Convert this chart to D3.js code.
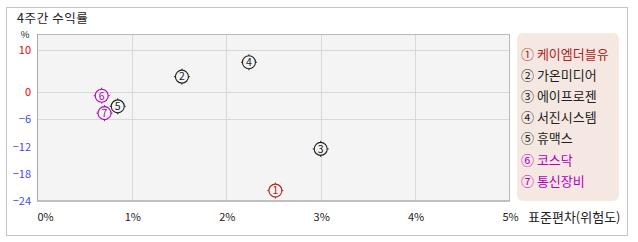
<!DOCTYPE html>
<html><head><meta charset="utf-8">
<script src="https://cdn.jsdelivr.net/npm/d3@7"></script>
<style>
body{margin:0;background:#fff;}
text{font-family:"Noto Sans CJK KR","Noto Sans",sans-serif;}
</style></head>
<body><svg id="c" width="638" height="242"></svg>
<script>
const names = ["케이엠더블유","가온미디어","에이프로젠","서진시스템","휴맥스","코스닥","통신장비"];
const marks = ["①","②","③","④","⑤","⑥","⑦"];
const stdev = [2.52, 1.53, 3.0, 2.24, 0.85, 0.68, 0.71];
const ret4w = [-21.7, 3.7, -12.5, 7.1, -3.1, -0.75, -4.6];
const colors = ["#b0201c","#222","#222","#222","#222","#b000c0","#b000c0"];
const yTicks = [10, 0, -6, -12, -18, -24];
const yGrid = [10, 0, -6];
const xTicks = [0,1,2,3,4,5];

const svg = d3.select("#c");
svg.append("rect").attr("x",6.5).attr("y",7.5).attr("width",621).attr("height",228)
  .attr("fill","#fff").attr("stroke","#c4c4c4");
svg.append("text").attr("x",17).attr("y",23).attr("font-size",12.5).attr("letter-spacing",0.6).attr("fill","#222").text("4주간 수익률");

const L=37.5, R=509.5, T=34.5, B=201;
const x = d3.scaleLinear().domain([0,5]).range([L,R]);
const y = d3.scaleLinear().domain([-24,0,10]).range([B,92.3,50]);

svg.append("rect").attr("x",L).attr("y",T).attr("width",R-L).attr("height",B-T).attr("fill","#f4f4f4");
// grid
svg.append("g").selectAll("line").data(xTicks.slice(1,5)).join("line")
  .attr("x1",d=>Math.round(x(d))+0.5).attr("x2",d=>Math.round(x(d))+0.5).attr("y1",T).attr("y2",B)
  .attr("stroke","#d8d8d8");
svg.append("g").selectAll("line").data(yGrid).join("line")
  .attr("x1",L).attr("x2",R).attr("y1",d=>Math.round(y(d))+0.5).attr("y2",d=>Math.round(y(d))+0.5)
  .attr("stroke","#d8d8d8");
// frame
svg.append("rect").attr("x",L).attr("y",T).attr("width",R-L).attr("height",B-T)
  .attr("fill","none").attr("stroke","#b8b8b8");
svg.append("path").attr("d",`M${L},${T}V${B}H${R}`).attr("fill","none").attr("stroke","#a8a8a8");

// y labels
svg.append("text").attr("x",25).attr("y",38.3).attr("font-size",9.5).attr("text-anchor","middle").attr("fill","#222").text("%");
svg.append("g").selectAll("text").data(yTicks).join("text")
  .attr("x",31).attr("y",d=>y(d)+4).attr("text-anchor","end").attr("font-size",11)
  .attr("fill",d=>d>=0?"#f00000":"#4848f0")
  .text(d=>d<0?"\u2212"+Math.abs(d):d);
// x labels
svg.append("g").selectAll("text").data(xTicks).join("text")
  .attr("x",d=>d===0?x(d):x(d)+1).attr("y",221).attr("font-size",11)
  .attr("text-anchor",d=>d===0?"start":"middle").attr("fill","#222")
  .text(d=>d+"%");
svg.append("text").attr("x",528).attr("y",221.5).attr("font-size",13).attr("fill","#222").text("표준편차(위험도)");

// points
const pts = svg.append("g").selectAll("g").data(names).join("g")
  .attr("transform",(d,i)=>`translate(${x(stdev[i])},${y(ret4w[i])})`);
pts.append("circle").attr("r",6.5).attr("fill","none").attr("stroke",(d,i)=>colors[i]).attr("stroke-width",1.1);
pts.append("path").attr("d","M0,-6.5V-8M0,6.5V8M-6.5,0H-8M6.5,0H8")
  .attr("stroke",(d,i)=>colors[i]).attr("stroke-width",1);
pts.append("text").attr("y",3.8).attr("text-anchor","middle").attr("font-size",10.5)
  .attr("fill",(d,i)=>colors[i]).text((d,i)=>i+1);

// legend
svg.append("rect").attr("x",517).attr("y",33).attr("width",102).attr("height",168).attr("rx",6)
  .attr("fill","#f5e8e2");
const lg = svg.append("g").selectAll("text").data(names).join("text")
  .attr("x",521).attr("y",(d,i)=>58.5+i*21.2).attr("font-size",13)
  .attr("fill",(d,i)=>colors[i])
  .text((d,i)=>marks[i]+" "+d);
</script></body></html>
